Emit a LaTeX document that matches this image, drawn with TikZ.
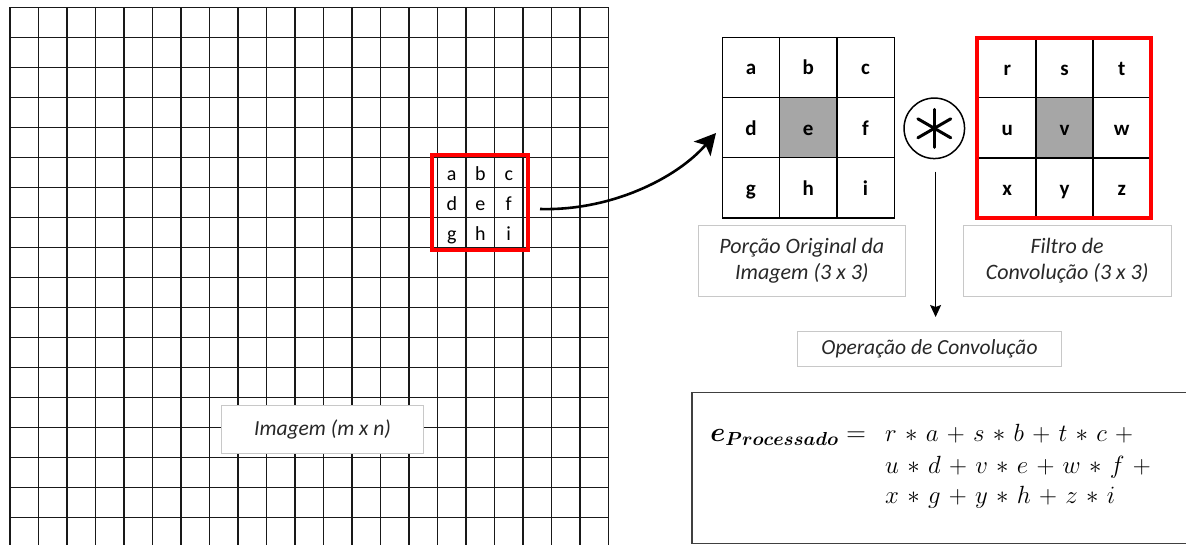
\documentclass[tikz,border=0pt]{standalone}
\usepackage{fontspec}
\setmainfont{Carlito}
\usepackage{amsmath}
\usepackage{graphicx}
\usetikzlibrary{arrows.meta,calc}
\definecolor{cellgray}{RGB}{166,166,166}
\definecolor{labelframe}{RGB}{200,200,200}
\definecolor{labeltext}{RGB}{40,40,40}
\definecolor{eqframe}{RGB}{64,64,64}

\begin{document}
\begin{tikzpicture}[x=1pt,y=-1pt,
  gridline/.style={line width=1.6pt, black!90, line cap=rect},
  smallletter/.style={inner sep=0pt, text height=16pt, text depth=0pt,
    font=\fontsize{20}{24}\selectfont},
  bigcell/.style={draw, line width=1.3pt, minimum width=57.3pt, minimum height=60.2pt,
    inner sep=0pt, text height=15pt, text depth=0pt,
    font=\fontsize{21}{25}\bfseries\selectfont},
  redframe/.style={draw=red, line width=4pt, inner sep=0pt},
  caption/.style={draw=labelframe, line width=1pt, fill=white, inner sep=0pt,
    align=center, text=labeltext, font=\fontsize{22}{25.5}\itshape\selectfont},
  eqline/.style={inner sep=0pt, font=\fontsize{25}{30}\selectfont},
]
\clip (0,0) rectangle (1186,544);
\fill[white] (0,0) rectangle (1186,544);

% image grid (m x n)
\foreach \i in {0,...,21}
  \draw[gridline] ({10+\i*28.5},7.5) -- ({10+\i*28.5},550);
\foreach \j in {0,...,17}
  \draw[gridline] (10,{7.5+\j*30}) -- (608.5,{7.5+\j*30});

% 3x3 window inside the image
\foreach \t [count=\k from 0] in {a,b,c,d,e,f,g,h,i} {
  \pgfmathsetmacro{\cx}{451.75+mod(\k,3)*28.5}
  \pgfmathsetmacro{\cy}{172.5+int(\k/3)*30}
  \node[smallletter] (w\t) at (\cx,\cy) {\t};
}
\node[redframe, minimum width=95.5pt, minimum height=95pt] (window) at (479.75,202) {};

% original portion of the image
\foreach \t/\f [count=\k from 0] in {a/white,b/white,c/white,d/white,e/cellgray,f/white,g/white,h/white,i/white} {
  \pgfmathsetmacro{\cx}{750.95+mod(\k,3)*57.3}
  \pgfmathsetmacro{\cy}{67.4+int(\k/3)*60.2}
  \node[bigcell, fill=\f] (p\t) at (\cx,\cy) {\t};
}

% convolution filter
\foreach \t/\f [count=\k from 0] in {r/white,s/white,t/white,u/white,v/cellgray,w/white,x/white,y/white,z/white} {
  \pgfmathsetmacro{\cx}{1007.3+mod(\k,3)*57.2}
  \pgfmathsetmacro{\cy}{67.6+int(\k/3)*60.2}
  \node[bigcell, fill=\f] (k\t) at (\cx,\cy) {\t};
}
\node[redframe, minimum width=174pt, minimum height=180.5pt] (filter) at (1064.3,127.85) {};

% convolution operator
\node[circle, draw, line width=1.5pt, minimum size=60.5pt, inner sep=0pt] (conv) at (934.3,128.3) {};
\foreach \a in {90,30,150,210,270,330}
  \draw[line width=3pt, line cap=round] (conv.center) -- ++(\a:19pt);

% captions
\node[caption, minimum width=207.7pt, minimum height=70.3pt] (capPatch) at (801.85,260.85)
  {Porção Original da\\Imagem (3 x 3)};
\node[caption, minimum width=207.7pt, minimum height=70.3pt] (capFilter) at (1067.15,260.85)
  {Filtro de\\Convolução (3 x 3)};
\node[caption, minimum width=264.4pt, minimum height=34.3pt, font=\fontsize{21.5}{25}\itshape\selectfont] (capOp) at (929.5,348.85)
  {Operação de Convolução};
\node[caption, minimum width=201.6pt, minimum height=48.3pt, font=\fontsize{21.5}{25}\itshape\selectfont] (capImage) at (322.5,429.15)
  {Imagem (m x n)};

% connectors
\coordinate (curveStart) at (540,209);
\coordinate (curveEnd) at (716,133);
\draw[line width=2.6pt, -{Stealth[length=21pt,width=22pt,inset=5pt]}]
  (curveStart) .. controls (610,211) and (676,179) .. (curveEnd);
\coordinate (opStart) at (935.6,171.7);
\coordinate (opEnd) at (935.6,317);
\draw[line width=1.2pt, -{Stealth[length=12pt,width=11pt,inset=2pt]}] (opStart) -- (opEnd);

% resulting equation
\node[draw=eqframe, line width=1.5pt, minimum width=540pt, minimum height=151pt,
  anchor=north west, inner sep=0pt] (eqBox) at (691,391.7) {};
\node[eqline, anchor=base east] (eqLhs) at (866,441)
  {\scalebox{1.09}{$\boldsymbol{e}_{\boldsymbol{Processado}} =$}};
\node[eqline, anchor=base west] (eqRowA) at (885,441)
  {$\medmuskip=6mu r \ast a + s \ast b + t \ast c +{}$};
\node[eqline, anchor=base west] (eqRowB) at (885,473)
  {$\medmuskip=6mu u \ast d + v \ast e + w \ast f +{}$};
\node[eqline, anchor=base west] (eqRowC) at (885,503)
  {$\medmuskip=6mu x \ast g + y \ast h + z \ast i$};
\end{tikzpicture}
\end{document}
